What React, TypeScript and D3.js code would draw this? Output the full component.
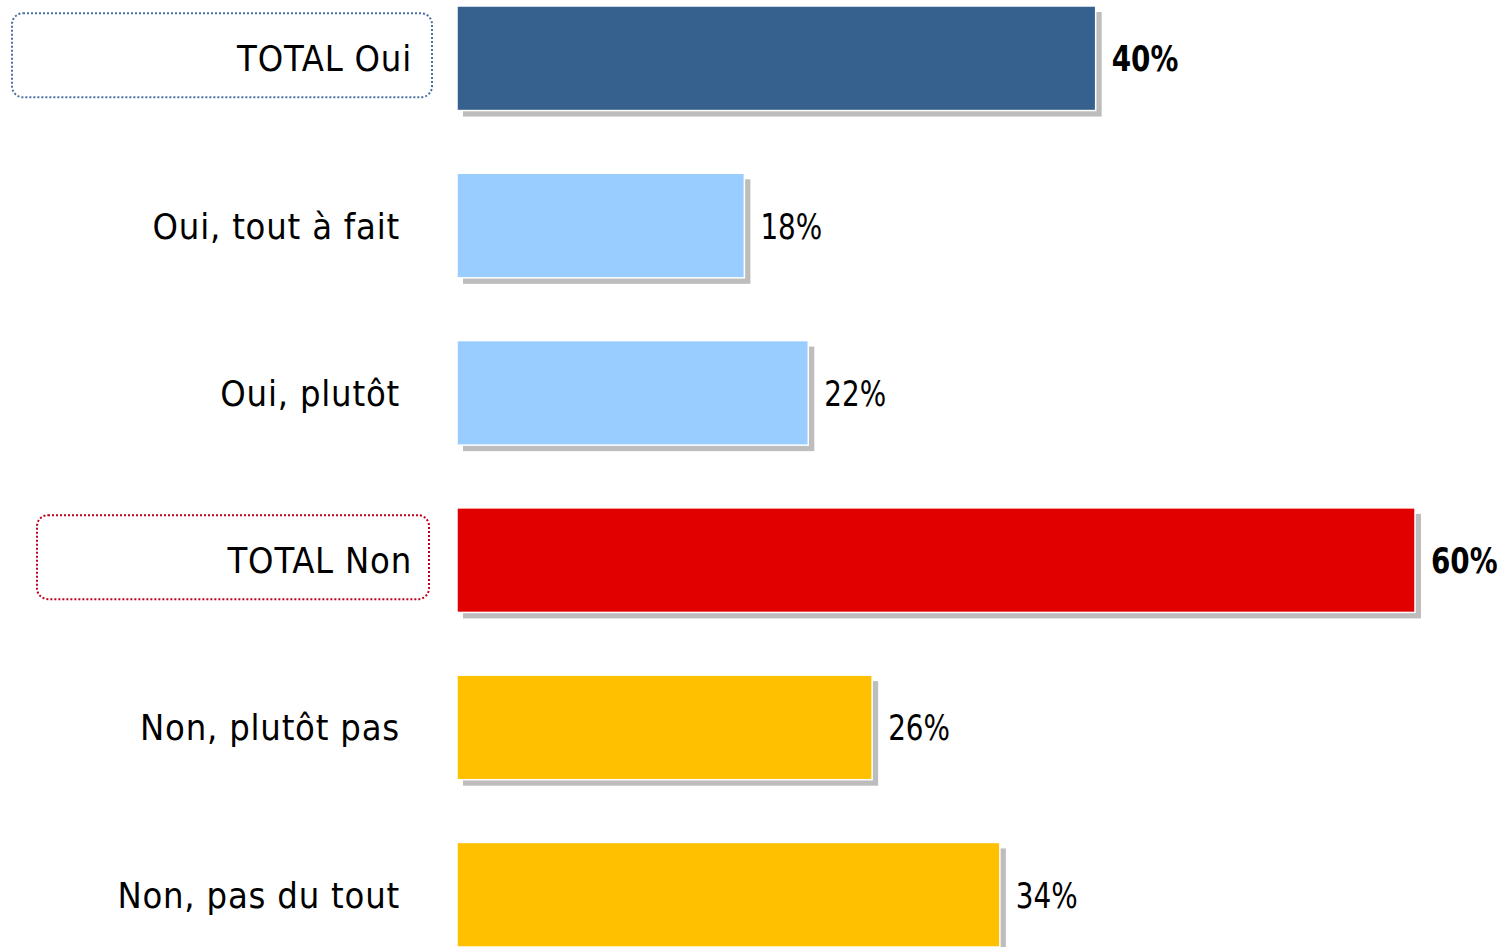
import React from "react";
import * as d3 from "d3";

const categories = ["TOTAL Oui", "Oui, tout à fait", "Oui, plutôt", "TOTAL Non", "Non, plutôt pas", "Non, pas du tout"];
const values = [40, 18, 22, 60, 26, 34];
const isTotal = [true, false, false, true, false, false];
const barColors = ["#36618f", "#99ccff", "#99ccff", "#e00000", "#ffc000", "#ffc000"];
const boxColors = ["#4a6fa5", "", "", "#c00020", "", ""];

const W = 1504;
const H = 947;
const FONT = "'DejaVu Sans Condensed', 'DejaVu Sans', sans-serif";

export default function App() {
  const x = d3.scaleLinear().domain([0, 60]).range([457, 1415]);
  const y = d3.scaleBand<string>().domain(categories).range([6, 947]).paddingInner(0.375).paddingOuter(0);
  const bw = y.bandwidth();
  return (
    <svg width={W} height={H} style={{ position: "absolute", left: 0, top: 0, background: "#fff" }} fontFamily={FONT}>
      <defs>
        <filter id="sh" x="-5%" y="-10%" width="110%" height="130%">
          <feGaussianBlur stdDeviation="0.6" />
        </filter>
      </defs>
      {categories.map((c, i) => {
        const y0 = y(c)!;
        const cy = y0 + bw / 2;
        const x1 = x(values[i]);
        return (
          <g key={c}>
            {isTotal[i] && (
              <rect
                x={i === 0 ? 12 : 37}
                y={cy - 45}
                width={i === 0 ? 420 : 392}
                height={84}
                rx={11}
                fill="none"
                stroke={boxColors[i]}
                strokeWidth={2}
                strokeDasharray="2 2"
              />
            )}
            <text
              x={isTotal[i] ? 412 : 400}
              y={cy}
              dy="0.36em"
              textAnchor="end"
              fontSize={36}
              letterSpacing={0.8}
              fill="#000"
            >
              {c}
            </text>
            <rect x={x(0) + 6} y={y0 + 6} width={x1 - x(0)} height={bw} fill="#bdbdbd" filter="url(#sh)" />
            <rect x={x(0)} y={y0} width={x1 - x(0)} height={bw} fill={barColors[i]} stroke="#fff" strokeWidth={1.5} />
            <text
              transform={`translate(${x1 + 16},${cy}) scale(0.86,1)`}
              dy="0.36em"
              fontSize={36}
              fontWeight={isTotal[i] ? "bold" : "normal"}
              fill="#000"
            >
              {values[i]}%
            </text>
          </g>
        );
      })}
    </svg>
  );
}
